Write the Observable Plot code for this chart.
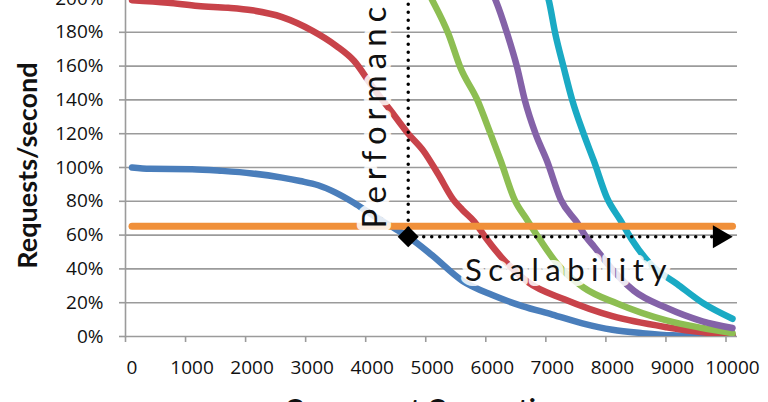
<!DOCTYPE html>
<html><head><meta charset="utf-8">
<script src="https://cdn.jsdelivr.net/npm/d3@7"></script>
<script src="https://cdn.jsdelivr.net/npm/@observablehq/plot@0.6"></script>
<style>html,body{margin:0;padding:0;background:#fff;overflow:hidden}</style>
</head><body><div id="chart"></div>
<script>
const xTicks = [0,1000,2000,3000,4000,5000,6000,7000,8000,9000,10000];
const yTicks = [0,20,40,60,80,100,120,140,160,180,200];

const blueX = [0,300,1000,1500,2000,2500,2800,3100,3400,3700,4000,4300,4600,5000,5500,6000,6500,7000,7500,8000,8500,9000,9500,10000];
const blueY = [100,99.2,99,98,96.5,94,92,89.5,85,79,72,65.5,59,48,33,24.5,18,13,7.8,4,2,0.7,0.4,0.3];

const redX = [0,600,1100,1600,2000,2500,3000,3400,3700,4000,4300,4600,4850,5100,5350,5500,5700,5900,6150,6600,7200,8000,8900,9500,10000];
const redY = [199,197.5,195.5,194.5,193,189,181,172,163,148,134,120,110,96,81,75,68,58,47,32,22,12,5.5,2.5,1];

const greenX = [4800,5000,5270,5470,5750,5970,6140,6370,6580,6800,7080,7520,8080,8900,9500,10000];
const greenY = [212,199,179,159,140,120,104,81,69,57,43,29,19.5,9.5,5,2];

const purpleX = [5850,6055,6250,6415,6540,6720,6910,7140,7420,7560,7700,7920,8360,8900,9500,10000];
const purpleY = [213,199,179,159,140,120,104,81,67,59,53,43,27,17,9,5];

const cyanX = [6750,6940,7050,7190,7330,7520,7690,7910,8130,8330,8630,9080,9520,10000];
const cyanY = [213,199,179,159,140,120,104,82,69,57,43,31,19.5,10.5];

const orangeX = [0,10000];
const orangeY = [65.3,65.3];

const seriesKeys = ["s1","s2","s3","s4","s5"];
const seriesColors = ["#4A7EBB","#C8434A","#8DBE52","#8462A8","#1AAAC4"];

const markerX = [4600];
const markerY = [59];
const arrowEndX = [10000];
const perfLabel = ["Performance"];
const perfX = [4055];
const perfY = [63.9];
const scalLabel = ["Scalability"];
const scalX = [7277];
const scalY = [38.8];

const seriesData = [
  [blueX, blueY], [redX, redY], [greenX, greenY], [purpleX, purpleY], [cyanX, cyanY]
].flatMap(([xs, ys], i) => xs.map((x, j) => ({s: seriesKeys[i], x, y: ys[j]})));
const orangeData = orangeX.map((x, j) => ({x, y: orangeY[j]}));
const marker = markerX.map((x, i) => ({x, y: markerY[i]}));
const arrowEnd = arrowEndX.map(x => ({x, y: markerY[0]}));
const perf = perfLabel.map((t, i) => ({t, x: perfX[i], y: perfY[i]}));
const scal = scalLabel.map((t, i) => ({t, x: scalX[i], y: scalY[i]}));

const gray = "#9b9b9b";
const titleFont = "Lato, sans-serif";

const chart = Plot.plot({
  width: 768,
  height: 402,
  marginLeft: 125,
  marginRight: 31,
  marginTop: 0,
  marginBottom: 66,
  style: {fontFamily: "'Open Sans', sans-serif", fontSize: "19px", color: "#111", background: "white"},
  x: {domain: [0, 10000], range: [131.5, 732]},
  y: {domain: [0, 200], range: [336, -2]},
  color: {domain: seriesKeys, range: seriesColors},
  marks: [
    Plot.gridY(yTicks, {stroke: gray, strokeOpacity: 1, strokeWidth: 1.6}),
    Plot.frame({anchor: "left", stroke: gray, strokeWidth: 1.6}),
    Plot.axisY(yTicks, {tickSize: 6, tickPadding: 16, stroke: gray, strokeWidth: 1.6, tickFormat: d => d + "%", label: null}),
    Plot.axisX(xTicks, {tickSize: 6, dx: -6.5, stroke: gray, strokeWidth: 1.6, tickFormat: () => "", label: null}),
    Plot.axisX(xTicks, {tickSize: 0, tickPadding: 24, tickFormat: d => String(d), label: null}),
    Plot.line(seriesData, {x: "x", y: "y", z: "s", stroke: "s", strokeWidth: 6.5, strokeLinecap: "round", strokeLinejoin: "round", curve: "monotone-x", clip: true}),
    Plot.line(orangeData, {x: "x", y: "y", stroke: "#F0903A", strokeWidth: 7, strokeLinecap: "round"}),
    Plot.text(perf, {x: "x", y: "y", text: "t", rotate: -90, textAnchor: "start", lineAnchor: "middle", fontFamily: titleFont, fontSize: 33, fill: "#111", stroke: "white", strokeWidth: 10, strokeOpacity: 0.85, strokeLinejoin: "round"}),
    Plot.text(scal, {x: "x", y: "y", text: "t", textAnchor: "middle", lineAnchor: "middle", fontFamily: titleFont, fontSize: 31, fill: "#111", stroke: "white", strokeWidth: 10, strokeOpacity: 0.85, strokeLinejoin: "round"}),
    Plot.ruleX(marker, {x: "x", y1: "y", y2: () => 215, stroke: "black", strokeWidth: 3.5, strokeDasharray: "0 8", strokeLinecap: "round", clip: true}),
    Plot.ruleY(marker, {y: "y", x1: "x", x2: () => arrowEndX[0], stroke: "black", strokeWidth: 3.5, strokeDasharray: "0 8", strokeLinecap: "round"}),
    Plot.dot(arrowEnd, {x: "x", y: "y", symbol: "triangle", rotate: 90, r: 8.5, fill: "black", stroke: "none", dx: -13}),
    Plot.dot(marker, {x: "x", y: "y", symbol: "square", rotate: 45, r: 8.4, fill: "black", stroke: "none"}),
    Plot.text(["Requests/second"], {frameAnchor: "left", textAnchor: "middle", dx: -97, dy: -3, rotate: -90, lineAnchor: "middle", fontFamily: titleFont, fontWeight: "bold", fontSize: 27, fill: "#111"}),
    Plot.text(["Concurrent Connections"], {frameAnchor: "bottom", textAnchor: "middle", dy: 62, lineAnchor: "top", fontFamily: titleFont, fontWeight: "bold", fontSize: 27, fill: "#111"})
  ]
});

d3.select(chart).selectAll("text")
  .filter(function() { return this.textContent === "Performance" || this.textContent === "Scalability"; })
  .attr("letter-spacing", function() { return this.textContent === "Performance" ? "6px" : "6.5px"; });

document.getElementById("chart").appendChild(chart);
</script>
</body></html>
